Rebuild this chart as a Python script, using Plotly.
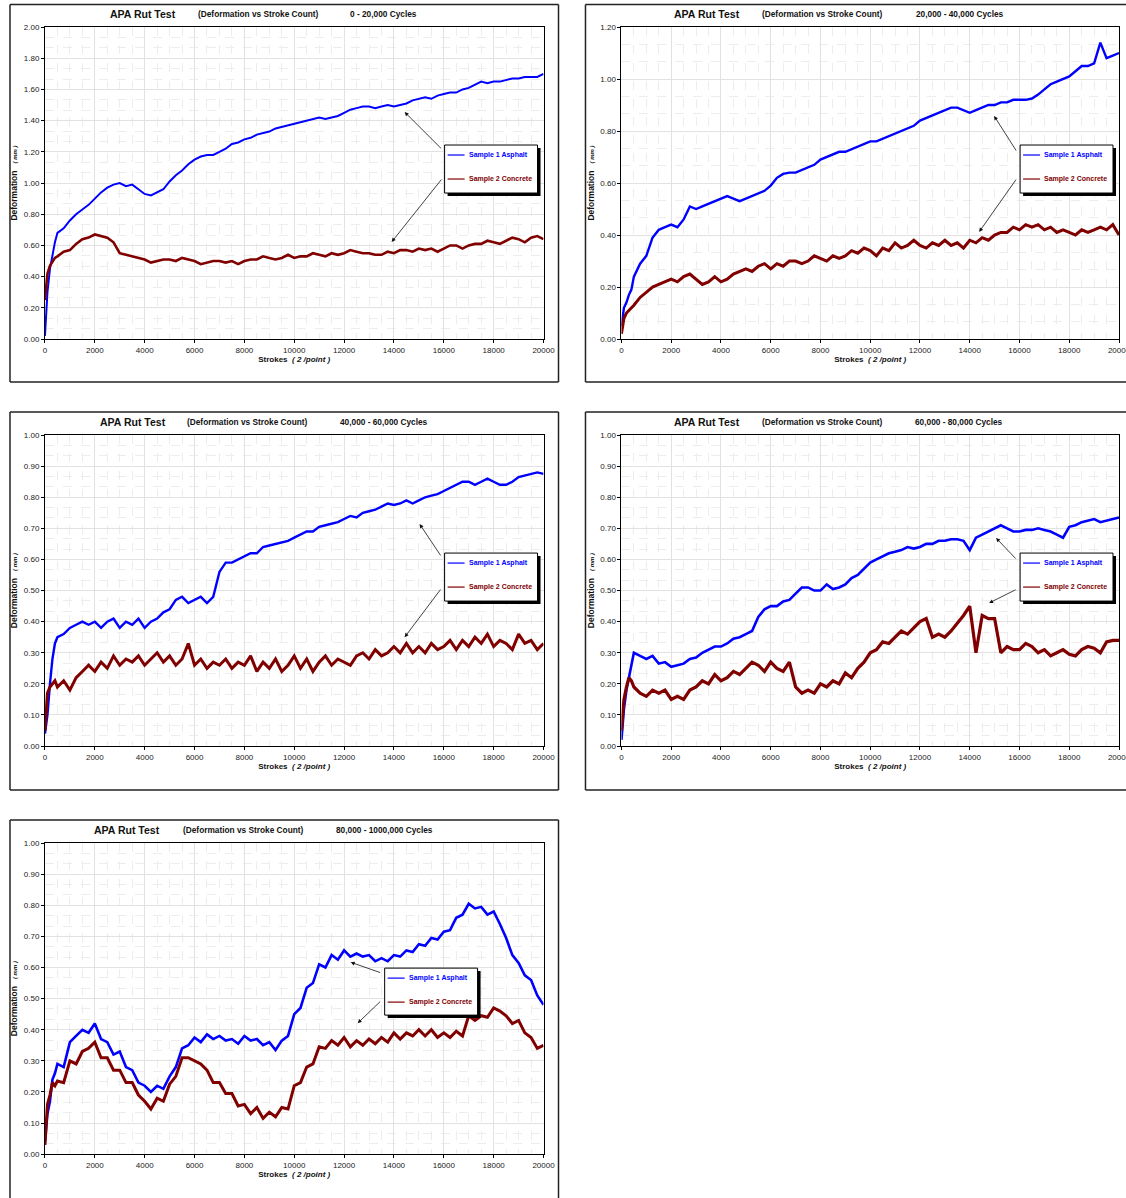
import plotly.graph_objects as go

W, H = 1126, 1198          # reference geometry (pixel coordinates below are in this space)
FIG_W, FIG_H = 1139, 1203  # rendered size (compensates the slight downscale of the snapshot)
Y_SHIFT, Y_SCALE = 4.0, 0.9924   # measured vertical offset/scale of the snapshot
FONT = "Liberation Sans, Arial, sans-serif"
BLUE = "#0000FF"
RED = "#800000"

# Stroke positions (x values shared by all panels)
strokes = [0, 100, 200, 300, 400] + list(range(500, 20001, 250))

# ---- Panel 1: 0 - 20,000 cycles ----
asphalt_p1 = [0.02, 0.30, 0.45, 0.55, 0.62,
              0.68, 0.71, 0.76, 0.80, 0.83, 0.86, 0.90, 0.94,
              0.97, 0.99, 1.00, 0.98, 0.99, 0.96, 0.93, 0.92,
              0.94, 0.96, 1.01, 1.05, 1.08, 1.12, 1.15, 1.17,
              1.18, 1.18, 1.20, 1.22, 1.25, 1.26, 1.28, 1.29,
              1.31, 1.32, 1.33, 1.35, 1.36, 1.37, 1.38, 1.39,
              1.40, 1.41, 1.42, 1.41, 1.42, 1.43, 1.45, 1.47,
              1.48, 1.49, 1.49, 1.48, 1.49, 1.50, 1.49, 1.50,
              1.51, 1.53, 1.54, 1.55, 1.54, 1.56, 1.57, 1.58,
              1.58, 1.60, 1.61, 1.63, 1.65, 1.64, 1.65, 1.65,
              1.66, 1.67, 1.67, 1.68, 1.68, 1.68, 1.70]
concrete_p1 = [0.25, 0.42, 0.47, 0.50, 0.52,
               0.53, 0.56, 0.57, 0.61, 0.64, 0.65, 0.67, 0.66,
               0.65, 0.62, 0.55, 0.54, 0.53, 0.52, 0.51, 0.49,
               0.50, 0.51, 0.51, 0.50, 0.52, 0.51, 0.50, 0.48,
               0.49, 0.50, 0.50, 0.49, 0.50, 0.48, 0.50, 0.51,
               0.51, 0.53, 0.52, 0.51, 0.52, 0.54, 0.52, 0.53,
               0.53, 0.55, 0.54, 0.53, 0.55, 0.54, 0.55, 0.57,
               0.56, 0.55, 0.55, 0.54, 0.54, 0.56, 0.55, 0.57,
               0.57, 0.56, 0.58, 0.57, 0.58, 0.56, 0.58, 0.60,
               0.60, 0.58, 0.60, 0.61, 0.61, 0.63, 0.62, 0.61,
               0.63, 0.65, 0.64, 0.62, 0.65, 0.66, 0.64]

# ---- Panel 2: 20,000 - 40,000 cycles ----
asphalt_p2 = [0.05, 0.12, 0.14, 0.17, 0.19,
              0.24, 0.29, 0.32, 0.39, 0.42, 0.43, 0.44, 0.43,
              0.46, 0.51, 0.50, 0.51, 0.52, 0.53, 0.54, 0.55,
              0.54, 0.53, 0.54, 0.55, 0.56, 0.57, 0.59, 0.62,
              0.635, 0.64, 0.64, 0.65, 0.66, 0.67, 0.69, 0.70,
              0.71, 0.72, 0.72, 0.73, 0.74, 0.75, 0.76, 0.76,
              0.77, 0.78, 0.79, 0.80, 0.81, 0.82, 0.84, 0.85,
              0.86, 0.87, 0.88, 0.89, 0.89, 0.88, 0.87, 0.88,
              0.89, 0.90, 0.90, 0.91, 0.91, 0.92, 0.92, 0.92,
              0.925, 0.94, 0.96, 0.98, 0.99, 1.00, 1.01, 1.03,
              1.05, 1.05, 1.06, 1.14, 1.08, 1.09, 1.10]
concrete_p2 = [0.02, 0.08, 0.10, 0.11, 0.12,
               0.13, 0.16, 0.18, 0.20, 0.21, 0.22, 0.23, 0.22,
               0.24, 0.25, 0.23, 0.21, 0.22, 0.24, 0.22, 0.23,
               0.25, 0.26, 0.27, 0.26, 0.28, 0.29, 0.27, 0.29,
               0.28, 0.30, 0.30, 0.29, 0.30, 0.32, 0.31, 0.30,
               0.32, 0.31, 0.32, 0.34, 0.33, 0.35, 0.34, 0.32,
               0.35, 0.34, 0.37, 0.35, 0.36, 0.38, 0.36, 0.35,
               0.37, 0.36, 0.38, 0.36, 0.37, 0.35, 0.38, 0.37,
               0.39, 0.38, 0.40, 0.41, 0.41, 0.43, 0.42, 0.44,
               0.43, 0.44, 0.42, 0.43, 0.41, 0.42, 0.41, 0.40,
               0.42, 0.41, 0.42, 0.43, 0.42, 0.44, 0.40]

# ---- Panel 3: 40,000 - 60,000 cycles ----
asphalt_p3 = [0.04, 0.10, 0.20, 0.28, 0.33,
              0.35, 0.36, 0.38, 0.39, 0.40, 0.39, 0.40, 0.38,
              0.40, 0.41, 0.38, 0.40, 0.39, 0.41, 0.38, 0.40,
              0.41, 0.43, 0.44, 0.47, 0.48, 0.46, 0.47, 0.48,
              0.46, 0.48, 0.56, 0.59, 0.59, 0.60, 0.61, 0.62,
              0.62, 0.64, 0.645, 0.65, 0.655, 0.66, 0.67, 0.68,
              0.69, 0.69, 0.705, 0.71, 0.715, 0.72, 0.73, 0.74,
              0.735, 0.75, 0.755, 0.76, 0.77, 0.78, 0.775, 0.78,
              0.79, 0.78, 0.79, 0.80, 0.805, 0.81, 0.82, 0.83,
              0.84, 0.85, 0.85, 0.84, 0.85, 0.86, 0.85, 0.84,
              0.84, 0.85, 0.865, 0.87, 0.875, 0.88, 0.875]
concrete_p3 = [0.05, 0.17, 0.19, 0.20, 0.21,
               0.19, 0.21, 0.18, 0.22, 0.24, 0.26, 0.24, 0.27,
               0.25, 0.29, 0.26, 0.28, 0.27, 0.29, 0.26, 0.28,
               0.30, 0.27, 0.29, 0.26, 0.28, 0.33, 0.26, 0.28,
               0.25, 0.27, 0.26, 0.28, 0.25, 0.27, 0.26, 0.29,
               0.24, 0.27, 0.25, 0.28, 0.24, 0.26, 0.29, 0.25,
               0.28, 0.24, 0.27, 0.29, 0.26, 0.28, 0.27, 0.26,
               0.29, 0.30, 0.28, 0.31, 0.29, 0.30, 0.32, 0.30,
               0.33, 0.30, 0.32, 0.30, 0.33, 0.31, 0.32, 0.34,
               0.31, 0.34, 0.32, 0.35, 0.33, 0.36, 0.32, 0.34,
               0.33, 0.31, 0.36, 0.33, 0.34, 0.31, 0.33]

# ---- Panel 4: 60,000 - 80,000 cycles ----
asphalt_p4 = [0.02, 0.12, 0.18, 0.22, 0.27,
              0.30, 0.29, 0.28, 0.29, 0.265, 0.27, 0.255, 0.26,
              0.265, 0.28, 0.285, 0.30, 0.31, 0.32, 0.32, 0.33,
              0.345, 0.35, 0.36, 0.37, 0.415, 0.44, 0.45, 0.45,
              0.465, 0.47, 0.49, 0.51, 0.51, 0.50, 0.50, 0.52,
              0.505, 0.51, 0.52, 0.54, 0.55, 0.57, 0.59, 0.60,
              0.61, 0.62, 0.625, 0.63, 0.64, 0.635, 0.64, 0.65,
              0.65, 0.66, 0.66, 0.665, 0.665, 0.66, 0.63, 0.67,
              0.68, 0.69, 0.70, 0.71, 0.70, 0.69, 0.69, 0.695,
              0.695, 0.70, 0.695, 0.69, 0.68, 0.67, 0.705, 0.71,
              0.72, 0.725, 0.73, 0.72, 0.725, 0.73, 0.735]
concrete_p4 = [0.05, 0.15, 0.19, 0.22, 0.21,
               0.19, 0.17, 0.16, 0.18, 0.17, 0.18, 0.15, 0.16,
               0.15, 0.18, 0.19, 0.21, 0.20, 0.23, 0.21, 0.22,
               0.24, 0.23, 0.25, 0.27, 0.26, 0.24, 0.27, 0.25,
               0.24, 0.27, 0.19, 0.17, 0.18, 0.17, 0.20, 0.19,
               0.21, 0.20, 0.235, 0.22, 0.25, 0.27, 0.30, 0.31,
               0.335, 0.33, 0.35, 0.37, 0.36, 0.38, 0.40, 0.41,
               0.35, 0.36, 0.35, 0.37, 0.395, 0.42, 0.45, 0.30,
               0.42, 0.41, 0.41, 0.30, 0.32, 0.31, 0.31, 0.33,
               0.32, 0.30, 0.31, 0.29, 0.30, 0.31, 0.295, 0.29,
               0.31, 0.32, 0.315, 0.30, 0.335, 0.34, 0.34]

# ---- Panel 5: 80,000 - 100,000 cycles ----
asphalt_p5 = [0.04, 0.13, 0.17, 0.24, 0.26,
              0.29, 0.28, 0.36, 0.38, 0.40, 0.39, 0.42, 0.37,
              0.36, 0.32, 0.33, 0.28, 0.27, 0.23, 0.22, 0.20,
              0.22, 0.21, 0.25, 0.28, 0.34, 0.35, 0.375, 0.36,
              0.385, 0.37, 0.38, 0.365, 0.37, 0.355, 0.38, 0.365,
              0.37, 0.35, 0.36, 0.335, 0.365, 0.38, 0.45, 0.47,
              0.535, 0.55, 0.61, 0.60, 0.64, 0.625, 0.655, 0.635,
              0.645, 0.635, 0.64, 0.62, 0.63, 0.62, 0.64, 0.635,
              0.655, 0.65, 0.675, 0.67, 0.695, 0.69, 0.715, 0.72,
              0.76, 0.77, 0.805, 0.79, 0.795, 0.77, 0.78, 0.74,
              0.695, 0.64, 0.615, 0.575, 0.56, 0.51, 0.48]
concrete_p5 = [0.03, 0.16, 0.19, 0.23, 0.22,
               0.235, 0.23, 0.30, 0.29, 0.33, 0.34, 0.36, 0.31,
               0.31, 0.27, 0.27, 0.23, 0.23, 0.19, 0.17, 0.145,
               0.18, 0.17, 0.225, 0.25, 0.31, 0.31, 0.30, 0.29,
               0.27, 0.23, 0.23, 0.195, 0.195, 0.155, 0.16, 0.13,
               0.15, 0.115, 0.135, 0.12, 0.15, 0.145, 0.22, 0.23,
               0.28, 0.29, 0.345, 0.34, 0.365, 0.35, 0.375, 0.345,
               0.365, 0.35, 0.37, 0.355, 0.375, 0.36, 0.39, 0.37,
               0.39, 0.38, 0.40, 0.38, 0.40, 0.375, 0.39, 0.375,
               0.395, 0.38, 0.445, 0.43, 0.445, 0.44, 0.47, 0.46,
               0.445, 0.42, 0.43, 0.39, 0.375, 0.34, 0.35]

series_names = ["Sample 1 Asphalt", "Sample 2 Concrete"]
cycle_labels = ["0 - 20,000 Cycles", "20,000 - 40,000 Cycles", "40,000 - 60,000 Cycles",
                "60,000 - 80,000 Cycles", "80,000 - 1000,000 Cycles"]
y_max = [2.0, 1.2, 1.0, 1.0, 1.0]
y_step = [0.2, 0.2, 0.1, 0.1, 0.1]
asphalt = [asphalt_p1, asphalt_p2, asphalt_p3, asphalt_p4, asphalt_p5]
concrete = [concrete_p1, concrete_p2, concrete_p3, concrete_p4, concrete_p5]


def px(x):
    return x / W


def py(y):
    fig_y = (y - Y_SHIFT) / Y_SCALE
    return max(0.0, min(1.0, 1 - fig_y / FIG_H))


# layout geometry in (reference) pixels
plot_boxes = [  # x0, x1, ytop, ybottom
    (43, 542, 27, 339),
    (620, 1118, 27, 339),
    (43, 542, 435, 746),
    (620, 1118, 435, 746),
    (43, 542, 843, 1154),
]
# frame sides to draw: (x0, y0, x1, y1, sides)
frames = [(8, 4.6, 557, 382, "tlbr"), (584, 4.6, 1126, 382, "tlb"), (8, 412, 557, 790, "tlbr"),
          (584, 412, 1126, 790, "tlb"), (8, 820, 557, 1198, "tlr")]
title_pos = [  # x of three title parts, y
    (106, 194, 346, 14), (671, 759, 913, 14), (96, 183, 336, 422),
    (671, 759, 912, 422), (90, 179, 332, 830),
]
legend_boxes = [(443, 145, 536, 193), (1019, 145, 1112, 193), (443, 553, 536, 601),
                (1019, 553, 1112, 601), (383, 968, 476, 1015)]
# arrows: (tail_x, tail_y, head_x, head_y) in data units
arrows = [
    [(15952, 1.212, 14429, 1.455), (15952, 1.032, 13908, 0.622)],
    [(15904, 0.719, 14980, 0.858), (15904, 0.619, 14378, 0.412)],
    [(15912, 0.608, 15030, 0.714), (15912, 0.508, 14429, 0.350)],
    [(15904, 0.598, 15060, 0.669), (15904, 0.505, 14779, 0.460)],
    [(13507, 0.582, 12265, 0.617), (13507, 0.495, 12545, 0.421)],
]
asphalt_width = [2.0, 2.4, 2.4, 2.6, 2.6]
concrete_width = [2.6, 3.0, 3.0, 3.2, 3.0]

fig = go.Figure()
shapes = []
annotations = []
layout_axes = {}


def add_line(x0, y0, x1, y1, color="#222", width=1.5):
    shapes.append(dict(type="line", xref="paper", yref="paper", x0=px(x0), x1=px(x1),
                       y0=py(y0), y1=py(y1), line=dict(color=color, width=width), layer="above"))


for i in range(5):
    n = i + 1
    xa = "x" if n == 1 else f"x{n}"
    ya = "y" if n == 1 else f"y{n}"
    x0, x1, yt, yb = plot_boxes[i]

    fig.add_trace(go.Scatter(x=strokes, y=asphalt[i], mode="lines", name=series_names[0],
                             line=dict(color=BLUE, width=asphalt_width[i]), xaxis=xa, yaxis=ya,
                             showlegend=False))
    fig.add_trace(go.Scatter(x=strokes, y=concrete[i], mode="lines", name=series_names[1],
                             line=dict(color=RED, width=concrete_width[i]), xaxis=xa, yaxis=ya,
                             showlegend=False))

    key_x = "xaxis" if n == 1 else f"xaxis{n}"
    key_y = "yaxis" if n == 1 else f"yaxis{n}"
    layout_axes[key_x] = dict(
        domain=[px(x0), px(x1)], anchor=ya, range=[0, 20000], dtick=2000, tick0=0,
        tickformat="d", showgrid=True, gridcolor="#e2e2e2", gridwidth=1,
        minor=dict(dtick=500, tick0=0, showgrid=True, gridcolor="#ededed", griddash="dash"),
        showline=True, linecolor="black", linewidth=1, mirror=True,
        ticks="outside", ticklen=3, tickcolor="black", zeroline=False,
        tickfont=dict(size=8, color="#222", family=FONT),
        title=dict(text="<b>Strokes</b>  <b><i>( 2 /point )</i></b>",
                   font=dict(size=8, color="#111", family=FONT), standoff=1),
    )
    layout_axes[key_y] = dict(
        domain=[py(yb), py(yt)], anchor=xa, range=[0, y_max[i]], dtick=y_step[i], tick0=0,
        tickformat=".2f", showgrid=True, gridcolor="#e2e2e2", gridwidth=1,
        minor=dict(dtick=y_step[i] / 3, tick0=0, showgrid=True, gridcolor="#ededed",
                   griddash="dash"),
        showline=True, linecolor="black", linewidth=1, mirror=True,
        ticks="outside", ticklen=3, tickcolor="black", zeroline=False,
        tickfont=dict(size=8, color="#222", family=FONT),
        title=dict(text="<b>Deformation</b>   <b><i><span style='font-size:6px'>( mm )</span></i></b>",
                   font=dict(size=8.5, color="#111", family=FONT), standoff=4),
    )

    # panel frame (only the sides that lie inside the page)
    fx0, fy0, fx1, fy1, sides = frames[i]
    if "t" in sides:
        add_line(fx0, fy0, fx1, fy0)
    if "b" in sides:
        add_line(fx0, fy1, fx1, fy1)
    if "l" in sides:
        add_line(fx0, fy0, fx0, fy1)
    if "r" in sides:
        add_line(fx1, fy0, fx1, fy1)

    # titles
    tx1, tx2, tx3, ty = title_pos[i]
    for txt, tx, sz in [("<b>APA Rut Test</b>", tx1, 10.5),
                        ("<b>(Deformation vs Stroke Count)</b>", tx2, 8.3),
                        (f"<b>{cycle_labels[i]}</b>", tx3, 8.3)]:
        annotations.append(dict(text=txt, x=px(tx), y=py(ty), xref="paper", yref="paper",
                                xanchor="left", yanchor="middle", showarrow=False,
                                font=dict(size=sz, color="#111", family=FONT)))

    # arrows
    for (axv, ayv, hx, hy) in arrows[i]:
        annotations.append(dict(text="", x=hx, y=hy, ax=axv, ay=ayv, xref=xa, yref=ya,
                                axref=xa, ayref=ya, showarrow=True, arrowhead=2,
                                arrowsize=1, arrowwidth=0.8, arrowcolor="#111"))

    # legend box (with drop shadow)
    lx0, ly0, lx1, ly1 = legend_boxes[i]
    shapes.append(dict(type="rect", xref="paper", yref="paper", x0=px(lx0 + 3), x1=px(lx1 + 3),
                       y0=py(ly1 + 3), y1=py(ly0 + 3), line=dict(width=0), fillcolor="black",
                       layer="above"))
    shapes.append(dict(type="rect", xref="paper", yref="paper", x0=px(lx0), x1=px(lx1),
                       y0=py(ly1), y1=py(ly0), line=dict(color="black", width=1),
                       fillcolor="white", layer="above"))
    for k, (nm, col) in enumerate(zip(series_names, [BLUE, RED])):
        ry = ly0 + 10 + k * 24
        add_line(lx0 + 3, ry, lx0 + 20, ry, color=col, width=1.2)
        annotations.append(dict(text=f"<b>{nm}</b>", x=px(lx0 + 22), y=py(ry), xref="paper",
                                yref="paper", xanchor="left", yanchor="middle",
                                showarrow=False, font=dict(size=7, color=col, family=FONT)))

fig.update_layout(
    width=FIG_W, height=FIG_H, margin=dict(l=0, r=0, t=0, b=0),
    paper_bgcolor="white", plot_bgcolor="white",
    font=dict(family=FONT, size=8, color="#111"),
    shapes=shapes, annotations=annotations, showlegend=False,
    **layout_axes,
)

page_fix = ("document.documentElement.style.margin='0px';"
            "document.documentElement.style.padding='0px';"
            "document.documentElement.style.overflow='hidden';"
            "document.body.style.margin='0px';"
            "document.body.style.padding='0px';"
            "document.body.style.overflow='hidden';")
fig.write_html("out.html", config={"displayModeBar": False}, post_script=page_fix)
